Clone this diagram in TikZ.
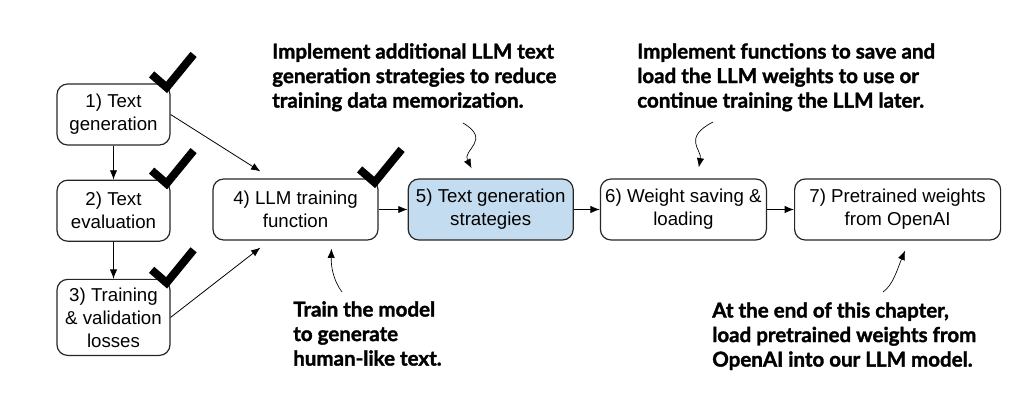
\documentclass[tikz,border=0pt]{standalone}
\usepackage{fontspec}
\setmainfont{Liberation Sans}
\newfontfamily\notefont{Lato}[BoldFeatures={FakeBold=1.6}]
\usetikzlibrary{positioning,calc,arrows.meta}
\definecolor{stagefill}{HTML}{C3DCEF}
\tikzset{
  stage/.style  = {draw=black!85, line width=0.9pt, rounded corners=8pt,
                   align=center, inner sep=2pt, minimum height=45.75pt,
                   font=\fontsize{14}{17.25}\selectfont},
  note/.style   = {anchor=north west, inner sep=0pt, align=left,
                   font=\notefont\bfseries\fontsize{15.4}{18.4}\selectfont},
  flow/.style   = {-{Latex[length=7pt,width=5.5pt]}, line width=0.6pt},
  pointer/.style= {-{Latex[length=7pt,width=5.5pt]}, line width=0.5pt},
  tick/.style   = {line width=6pt, black}
}
% checkmark sitting on the top right corner of a box
\newcommand\donemark[1]{%
  \draw[tick] ($(#1.north east)+(-19,-9)$) -- ++(15,13) -- ++(27,-33);}

\begin{document}
\begin{tikzpicture}[x=0.75pt,y=-0.75pt,node distance=20.25pt]
\useasboundingbox (0,0) rectangle (1023,402);

% stages
\node[stage, minimum width=84.75pt] (textgen) at (113.5,114.5) {1) Text\\generation};
\node[stage, minimum width=84.75pt, below=25.5pt of textgen] (texteval) {2) Text\\evaluation};
\node[stage, minimum width=84.75pt, minimum height=57pt, below=27.75pt of texteval] (losses)
  {3) Training\\\& validation\\losses};
\node[stage, minimum width=123.75pt] (train) at (295.5,209.5) {4) LLM training\\function};
\node[stage, minimum width=123.75pt, fill=stagefill, right=21.75pt of train] (strategies)
  {5) Text generation\\strategies};
\node[stage, minimum width=124.5pt, right=19.5pt of strategies] (saving)
  {6) Weight saving \&\\loading};
\node[stage, minimum width=154.5pt, right=20.25pt of saving] (openai)
  {7) Pretrained weights\\from OpenAI};

% connections
\draw[flow] (textgen) -- (texteval);
\draw[flow] (texteval) -- (losses);
\draw[flow] (textgen.east) -- ($(train.north west)+(48,-7)$);
\draw[flow] (losses.east) -- ($(train.south west)+(48,7)$);
\draw[flow] (train) -- (strategies);
\draw[flow] (strategies) -- (saving);
\draw[flow] (saving) -- (openai);

% done
\donemark{textgen}
\donemark{texteval}
\donemark{losses}
\donemark{train}

% notes
\node[note] (notestrat) at (272,43) {Implement additional LLM text\\generation strategies to reduce\\training data memorization.};
\node[note] (notesave) at (637,43) {Implement functions to save and\\load the LLM weights to use or\\continue training the LLM later.};
\node[note] (notetrain) at (293,301) {Train the model\\to generate\\human-like text.};
\node[note] (noteopenai) at (712,302) {At the end of this chapter,\\load pretrained weights from\\OpenAI into our LLM model.};

\coordinate (fromstrat) at (463,123);
\coordinate (fromsave) at (713,122);
\coordinate (fromtrain) at (342,292);
\coordinate (fromopenai) at (883,292);
\draw[pointer] (fromstrat) .. controls (492,140) and (462,150) .. ($(strategies.north west)+(64,-10)$);
\draw[pointer] (fromsave) .. controls (682,138) and (702,150) .. ($(saving.north west)+(99,-11)$);
\draw[pointer] (fromtrain) .. controls (333,280) and (331,266) .. ($(train.south west)+(119,8)$);
\draw[pointer] (fromopenai) .. controls (893,285) and (897,270) .. ($(openai.south west)+(111,10)$);
\end{tikzpicture}
\end{document}
